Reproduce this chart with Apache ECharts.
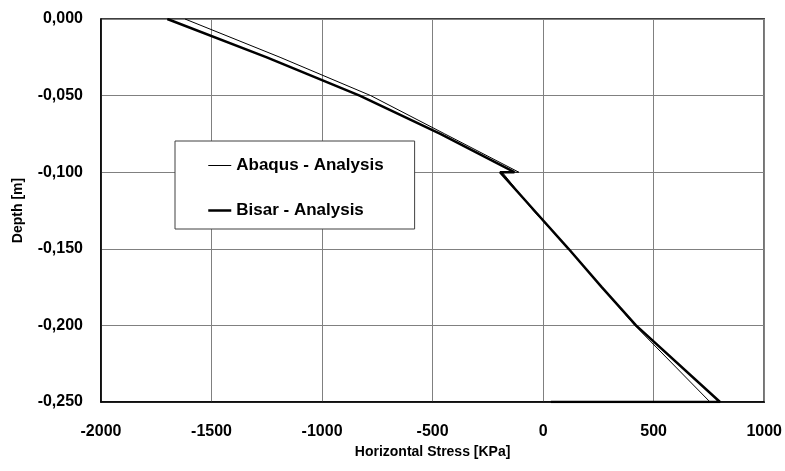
<!DOCTYPE html>
<html>
<head>
<meta charset="utf-8">
<script src="https://cdn.jsdelivr.net/npm/echarts@6/dist/echarts.min.js"></script>
<style>html,body{margin:0;padding:0;background:#fff}#c{width:785px;height:471px}</style>
</head>
<body>
<div id="c"></div>
<script>
const seriesNames = ['Abaqus - Analysis', 'Bisar - Analysis'];
const abaqusDepth = [0, -0.025, -0.05, -0.075, -0.1, -0.1, -0.125, -0.15, -0.175, -0.2, -0.25];
const abaqusStress = [-1620, -1190, -780, -445, -110, -185, -45, 115, 265, 415, 755];
const bisarDepth = [0, -0.025, -0.05, -0.075, -0.1, -0.1, -0.125, -0.15, -0.175, -0.2, -0.25, -0.25];
const bisarStress = [-1700, -1250, -830, -465, -130, -195, -40, 115, 265, 420, 800, 35];
const xTicks = { min: -2000, max: 1000, interval: 500 };
const yTicks = { min: -0.25, max: 0, interval: 0.05 };

const font = '"Liberation Sans", Arial, sans-serif';
const pairs = (xs, ys) => xs.map((x, i) => [x, ys[i]]);
const lineWidths = [1, 2.5];

const chart = echarts.init(document.getElementById('c'));
chart.setOption({
  animation: false,
  backgroundColor: '#fff',
  grid: { left: 101, right: 20, top: 19, bottom: 69, show: true, borderColor: '#000', borderWidth: 1.5, backgroundColor: 'transparent' },
  legend: {
    orient: 'vertical', left: 175, top: 141,
    data: seriesNames.map((n, i) => ({ name: n, lineStyle: { width: lineWidths[i], color: '#000' } })),
    backgroundColor: '#fff', borderColor: '#404040', borderWidth: 1,
    padding: [16, 31, 10, 32],
    itemGap: 28, itemWidth: 23, itemHeight: 14,
    itemStyle: { color: 'rgba(0,0,0,0)', borderWidth: 0, borderColor: 'rgba(0,0,0,0)' },
    textStyle: { fontFamily: font, fontWeight: 'bold', fontSize: 17, color: '#000' }
  },
  xAxis: {
    type: 'value', min: xTicks.min, max: xTicks.max, interval: xTicks.interval,
    name: 'Horizontal Stress [KPa]', nameLocation: 'middle', nameGap: 43,
    nameTextStyle: { fontFamily: font, fontWeight: 'bold', fontSize: 14, color: '#000' },
    axisLine: { show: true, onZero: false, lineStyle: { color: '#000', width: 1.5 } },
    axisTick: { show: false },
    axisLabel: { fontFamily: font, fontWeight: 'bold', fontSize: 16, color: '#000', margin: 22, formatter: v => String(v) },
    splitLine: { show: true, lineStyle: { color: '#808080', width: 1 } }
  },
  yAxis: {
    type: 'value', min: yTicks.min, max: yTicks.max, interval: yTicks.interval,
    name: 'Depth [m]', nameLocation: 'middle', nameGap: 76,
    nameTextStyle: { fontFamily: font, fontWeight: 'bold', fontSize: 14, color: '#000' },
    axisLine: { show: true, onZero: false, lineStyle: { color: '#000', width: 1.5 } },
    axisTick: { show: false },
    axisLabel: {
      fontFamily: font, fontWeight: 'bold', fontSize: 16, color: '#000', margin: 18,
      formatter: v => { const s = Math.abs(v) < 1e-9 ? '0.000' : v.toFixed(3); return s.replace('.', ','); }
    },
    splitLine: { show: true, lineStyle: { color: '#808080', width: 1 } }
  },
  series: [
    { name: seriesNames[0], type: 'line', data: pairs(abaqusStress, abaqusDepth), symbol: 'none', lineStyle: { color: '#000', width: lineWidths[0] }, itemStyle: { color: '#000' }, z: 3 },
    { name: seriesNames[1], type: 'line', data: pairs(bisarStress, bisarDepth), symbol: 'none', lineStyle: { color: '#000', width: lineWidths[1] }, itemStyle: { color: '#000' }, z: 2 }
  ]
});
</script>
</body>
</html>
